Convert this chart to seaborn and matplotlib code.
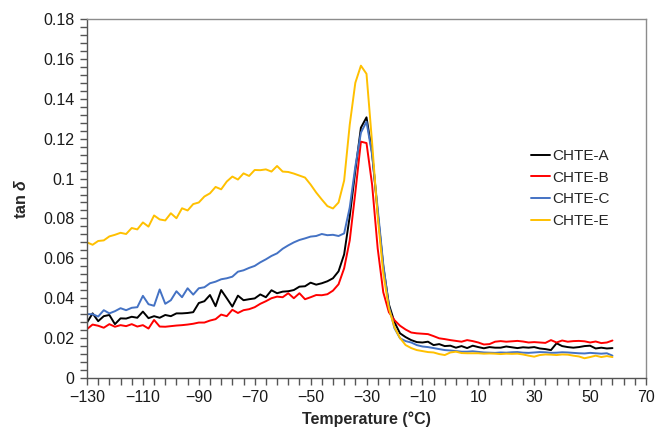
import numpy as np
import pandas as pd
import matplotlib
matplotlib.use("Agg")
import matplotlib.pyplot as plt
from matplotlib.ticker import FuncFormatter
import seaborn as sns

temperature = np.arange(-130, 59, 2)

chte_a = [0.0278, 0.0324, 0.0285, 0.0310, 0.0316, 0.0270, 0.0299, 0.0298, 0.0307, 0.0302,
          0.0333, 0.0300, 0.0310, 0.0302, 0.0316, 0.0310, 0.0324, 0.0324, 0.0326, 0.0330,
          0.0376, 0.0385, 0.0416, 0.0360, 0.0441, 0.0400, 0.0358, 0.0413, 0.0390, 0.0395,
          0.0399, 0.0419, 0.0405, 0.0440, 0.0425, 0.0433, 0.0435, 0.0441, 0.0458, 0.0460,
          0.0478, 0.0468, 0.0475, 0.0485, 0.0500, 0.0535, 0.0620, 0.0810, 0.1040, 0.1255,
          0.1307, 0.1130, 0.0830, 0.0560, 0.0370, 0.0280, 0.0224, 0.0205, 0.0190, 0.0180,
          0.0178, 0.0182, 0.0165, 0.0170, 0.0160, 0.0162, 0.0152, 0.0160, 0.0150, 0.0162,
          0.0155, 0.0149, 0.0155, 0.0152, 0.0152, 0.0158, 0.0154, 0.0150, 0.0154, 0.0152,
          0.0155, 0.0148, 0.0145, 0.0140, 0.0174, 0.0160, 0.0155, 0.0152, 0.0155, 0.0160,
          0.0162, 0.0148, 0.0152, 0.0148, 0.0150]

chte_b = [0.0245, 0.0268, 0.0262, 0.0252, 0.0270, 0.0257, 0.0265, 0.0260, 0.0270, 0.0258,
          0.0265, 0.0248, 0.0291, 0.0258, 0.0257, 0.0260, 0.0263, 0.0265, 0.0268, 0.0272,
          0.0278, 0.0278, 0.0288, 0.0295, 0.0318, 0.0310, 0.0342, 0.0326, 0.0340, 0.0345,
          0.0355, 0.0372, 0.0385, 0.0400, 0.0408, 0.0405, 0.0425, 0.0400, 0.0425, 0.0395,
          0.0405, 0.0416, 0.0415, 0.0420, 0.0438, 0.0470, 0.0550, 0.0690, 0.0930, 0.1185,
          0.1178, 0.0970, 0.0650, 0.0430, 0.0330, 0.0290, 0.0262, 0.0243, 0.0228, 0.0224,
          0.0222, 0.0220, 0.0210, 0.0199, 0.0195, 0.0190, 0.0186, 0.0182, 0.0190, 0.0185,
          0.0178, 0.0168, 0.0170, 0.0182, 0.0185, 0.0182, 0.0184, 0.0186, 0.0183, 0.0178,
          0.0180, 0.0178, 0.0176, 0.0190, 0.0178, 0.0188, 0.0182, 0.0185, 0.0186, 0.0184,
          0.0178, 0.0183, 0.0175, 0.0178, 0.0188]

chte_c = [0.0320, 0.0320, 0.0308, 0.0340, 0.0324, 0.0335, 0.0350, 0.0340, 0.0352, 0.0355,
          0.0412, 0.0370, 0.0362, 0.0444, 0.0372, 0.0390, 0.0435, 0.0405, 0.0450, 0.0418,
          0.0450, 0.0455, 0.0475, 0.0483, 0.0495, 0.0500, 0.0508, 0.0533, 0.0540, 0.0552,
          0.0562, 0.0580, 0.0595, 0.0612, 0.0625, 0.0648, 0.0665, 0.0680, 0.0692, 0.0700,
          0.0709, 0.0712, 0.0722, 0.0716, 0.0718, 0.0712, 0.0725, 0.0855, 0.1060, 0.1230,
          0.1285, 0.1120, 0.0850, 0.0570, 0.0360, 0.0250, 0.0199, 0.0185, 0.0178, 0.0165,
          0.0158, 0.0155, 0.0150, 0.0145, 0.0140, 0.0138, 0.0135, 0.0132, 0.0132, 0.0134,
          0.0131, 0.0128, 0.0127, 0.0126, 0.0128, 0.0127, 0.0129, 0.0130, 0.0127, 0.0126,
          0.0128, 0.0130, 0.0129, 0.0126, 0.0127, 0.0129, 0.0128, 0.0126, 0.0124, 0.0123,
          0.0126, 0.0124, 0.0122, 0.0124, 0.0112]

chte_e = [0.0680, 0.0668, 0.0687, 0.0690, 0.0710, 0.0718, 0.0728, 0.0722, 0.0752, 0.0745,
          0.0780, 0.0759, 0.0815, 0.0795, 0.0790, 0.0826, 0.0801, 0.0851, 0.0840, 0.0872,
          0.0880, 0.0910, 0.0926, 0.0958, 0.0946, 0.0985, 0.1010, 0.0995, 0.1026, 0.1013,
          0.1043, 0.1042, 0.1046, 0.1035, 0.1063, 0.1035, 0.1033, 0.1025, 0.1015, 0.1005,
          0.0970, 0.0930, 0.0895, 0.0862, 0.0850, 0.0880, 0.0990, 0.1270, 0.1480, 0.1566,
          0.1525, 0.1180, 0.0810, 0.0525, 0.0350, 0.0255, 0.0200, 0.0165, 0.0150, 0.0140,
          0.0135, 0.0130, 0.0128, 0.0120, 0.0115, 0.0128, 0.0132, 0.0125, 0.0124, 0.0124,
          0.0124, 0.0122, 0.0123, 0.0122, 0.0120, 0.0122, 0.0121, 0.0122, 0.0118, 0.0112,
          0.0107, 0.0115, 0.0118, 0.0117, 0.0115, 0.0118, 0.0117, 0.0112, 0.0108, 0.0099,
          0.0105, 0.0112, 0.0105, 0.0110, 0.0105]

series_names = ["CHTE-A", "CHTE-B", "CHTE-C", "CHTE-E"]
series_colors = ["#000000", "#FF0000", "#4472C4", "#FFC000"]
x_ticks = list(range(-130, 71, 20))
y_ticks = [0, 0.02, 0.04, 0.06, 0.08, 0.1, 0.12, 0.14, 0.16, 0.18]

frames = []
for name, vals in zip(series_names, [chte_a, chte_b, chte_c, chte_e]):
    frames.append(pd.DataFrame({"Temperature": temperature, "tan": vals, "Sample": name}))
df = pd.concat(frames, ignore_index=True)

sns.set_style("white")
plt.rcParams["font.family"] = ["Liberation Sans", "DejaVu Sans"]
plt.rcParams["mathtext.fontset"] = "custom"
plt.rcParams["mathtext.bfit"] = "Liberation Sans:bold:italic"
plt.rcParams["axes.unicode_minus"] = True

fig = plt.figure(figsize=(6.56, 4.29), dpi=100)
ax = fig.add_axes([87 / 656, 1 - 378 / 429, (646 - 87) / 656, (378 - 19) / 429])

sns.lineplot(data=df, x="Temperature", y="tan", hue="Sample", hue_order=series_names,
             palette=series_colors, linewidth=1.4, ax=ax, legend=True)

ax.set_xlim(-130, 70)
ax.set_ylim(0, 0.18)
ax.set_xticks(x_ticks)
ax.set_xticks(np.arange(-130, 71, 4), minor=True)
ax.set_yticks(y_ticks)
ax.set_yticks(np.arange(0, 0.1801, 0.004), minor=True)
ax.yaxis.set_major_formatter(FuncFormatter(lambda v, p: "0" if abs(v) < 1e-9 else f"{v:g}"))

spine_col = "#8C8C8C"
for s in ax.spines.values():
    s.set_visible(True)
    s.set_color(spine_col)
    s.set_linewidth(1.0)
ax.spines["left"].set_color("#555555")
ax.spines["bottom"].set_color("#555555")

ax.tick_params(axis="both", which="both", direction="out", length=5, width=1.0,
               color="#555555", labelsize=11.5, labelcolor="#1a1a1a")
ax.tick_params(axis="y", which="both", left=True, right=False, pad=4)
ax.tick_params(axis="x", which="both", bottom=True, top=False, pad=4)

ax.set_xlabel("Temperature (°C)", fontsize=11.5, fontweight="bold", labelpad=4)
ax.set_ylabel(r"tan $\mathbfit{\delta}$", fontsize=11.5, fontweight="bold", labelpad=10)

leg = ax.legend(loc="upper left", bbox_to_anchor=(438 / 559, 0.655), frameon=False,
                fontsize=11, handlelength=1.25, handletextpad=0.15, labelspacing=0.5,
                borderaxespad=0)
for line in leg.get_lines():
    line.set_linewidth(1.4)

fig.savefig("out.png", dpi=100)
